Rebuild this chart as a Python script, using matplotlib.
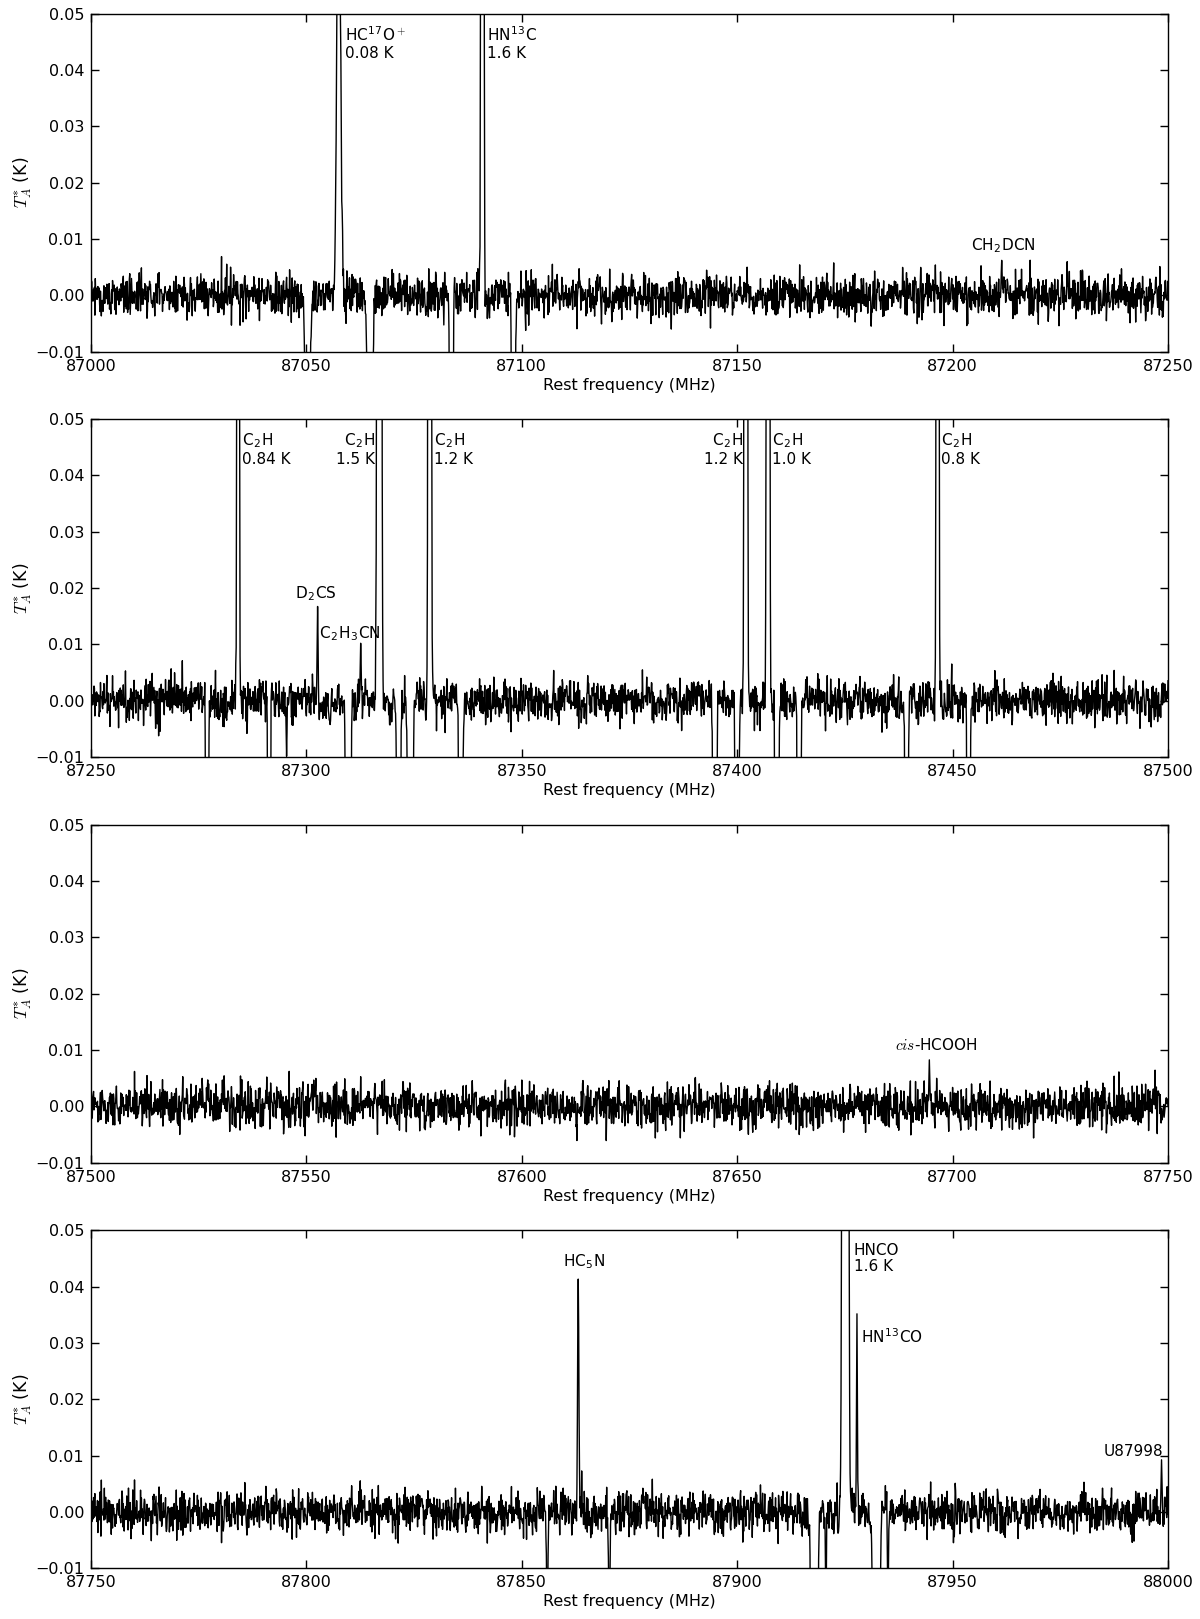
import matplotlib
matplotlib.use('Agg')
import matplotlib.pyplot as plt
import numpy as np

# ----------------------------------------------------------------
# spectrum 87000-88000 MHz, four panels of 250 MHz
# lines, frequency switched (negative ghosts)
# ----------------------------------------------------------------

plt.rcParams['mathtext.fontset'] = 'cm'
plt.rcParams['font.family'] = ['DejaVu Sans']

# panel ranges (MHz)
panel_lo = [87000, 87250, 87500, 87750]
panel_hi = [87250, 87500, 87750, 88000]

# line catalogue: centre (MHz), peak T_A* (K), fwhm (MHz)
line_freq = [87057.5, 87090.85, 87211.4,
             87284.15, 87302.6, 87312.6, 87316.92, 87328.62, 87402.0, 87407.16, 87446.51,
             87694.6,
             87863.1, 87925.1, 87927.8, 87998.5]
line_peak = [0.08, 1.6, 0.0062,
             0.84, 0.0168, 0.0098, 1.5, 1.2, 1.2, 1.0, 0.8,
             0.0084,
             0.041, 1.6, 0.035, 0.0089]
line_fwhm = [1.0, 0.4, 0.25,
             0.35, 0.25, 0.25, 0.6, 0.45, 0.45, 0.45, 0.4,
             0.25,
             0.35, 0.8, 0.25, 0.25]

# frequency switching throw and ghost fraction
fsw_throw = 7.2
ghost_frac = 0.5

chan = 0.1
noise_rms = 0.0019

# labels: text, x (MHz), y (K), ha, va
lab_text = [r'HC$^{\mathregular{17}}$O$^+$' + '\n0.08 K', r'HN$^{\mathregular{13}}$C' + '\n1.6 K',
            r'CH$_{\mathregular{2}}$DCN',
            r'C$_{\mathregular{2}}$H' + '\n0.84 K', r'C$_{\mathregular{2}}$H' + '\n1.5 K',
            r'C$_{\mathregular{2}}$H' + '\n1.2 K', r'C$_{\mathregular{2}}$H' + '\n1.2 K',
            r'C$_{\mathregular{2}}$H' + '\n1.0 K', r'C$_{\mathregular{2}}$H' + '\n0.8 K',
            r'D$_{\mathregular{2}}$CS', r'C$_{\mathregular{2}}$H$_{\mathregular{3}}$CN',
            r'$cis$-HCOOH',
            r'HC$_{\mathregular{5}}$N', 'HNCO\n1.6 K', r'HN$^{\mathregular{13}}$CO', 'U87998']
lab_x = [87059.0, 87091.9, 87211.8,
         87285.1, 87316.0, 87329.7,
         87401.3, 87408.1, 87447.3,
         87302.2, 87302.9,
         87696.2,
         87864.4, 87927.0, 87928.8, 87998.8]
lab_y = [0.0478, 0.0478, 0.0089,
         0.0478, 0.0478, 0.0478,
         0.0478, 0.0478, 0.0478,
         0.0189, 0.0118,
         0.0109,
         0.0444, 0.0478, 0.031, 0.0107]
lab_ha = ['left', 'left', 'center',
          'left', 'right', 'left',
          'right', 'left', 'left',
          'center', 'left',
          'center',
          'center', 'left', 'left', 'right']
lab_va = ['top', 'top', 'center',
          'top', 'top', 'top',
          'top', 'top', 'top',
          'center', 'center',
          'center',
          'center', 'top', 'center', 'center']

# ----------build spectrum---------------------
freq = np.arange(panel_lo[0], panel_hi[-1] + chan, chan)
# baseline noise: the channel values cannot be read, only the rms (fixed seed)
rng = np.random.default_rng(11)
noise = rng.normal(0.0, noise_rms, freq.size)
spec = np.zeros(freq.size)
for f0, a, w in zip(line_freq, line_peak, line_fwhm):
    s = w / 2.3548
    spec += a * np.exp(-0.5 * ((freq - f0) / s) ** 2)
    for sign in (-1, 1):
        spec -= ghost_frac * a * np.exp(-0.5 * ((freq - f0 - sign * fsw_throw) / s) ** 2)
    if a < 0.05:
        near = np.abs(freq - f0) < 0.3
        noise[near] *= 0.15
spec += noise

# ----------figure---------------------
W, H = 1200, 1619
fig = plt.figure(figsize=(W / 100, H / 100), dpi=100)
left = 91
width = 1077
height = 338
tops = [13.7, 419, 824.7, 1230.3]

for p in range(4):
    ax = fig.add_axes([left / W, 1 - (tops[p] + height) / H, width / W, height / H])
    m = (freq >= panel_lo[p] - 1) & (freq <= panel_hi[p] + 1)
    ax.plot(freq[m], spec[m], color='black', lw=1.0)
    ax.set_xlim(panel_lo[p], panel_hi[p])
    ax.set_ylim(-0.01, 0.05)
    ax.set_xticks(np.arange(panel_lo[p], panel_hi[p] + 1, 50))
    ax.set_yticks([-0.01, 0.0, 0.01, 0.02, 0.03, 0.04, 0.05])
    ax.set_yticklabels(['\u22120.01', '0.00', '0.01', '0.02', '0.03', '0.04', '0.05'])
    ax.tick_params(direction='in', top=True, right=True, length=6, width=1,
                   labelsize=11.5, pad=5)
    for sp in ax.spines.values():
        sp.set_linewidth(1.0)
    ax.set_xlabel('Rest frequency (MHz)', fontsize=11.5, labelpad=3)
    ax.set_ylabel(r'$T_A^{*}$ (K)', fontsize=12.5, labelpad=1)
    for t, x, y, ha, va in zip(lab_text, lab_x, lab_y, lab_ha, lab_va):
        if panel_lo[p] <= x <= panel_hi[p] + 1:
            ax.text(x, y, t, ha=ha, va=va, fontsize=11, linespacing=1.15)

plt.savefig('out.png', dpi=100)
